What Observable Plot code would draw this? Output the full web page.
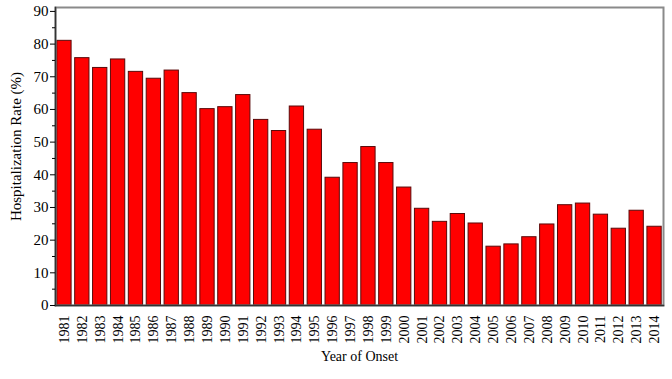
<!DOCTYPE html>
<html>
<head>
<meta charset="utf-8">
<script src="https://cdn.jsdelivr.net/npm/d3@7"></script>
<script src="https://cdn.jsdelivr.net/npm/@observablehq/plot@0.6"></script>
<style>
  html, body { margin: 0; padding: 0; background: white; }
</style>
</head>
<body>
<div id="chart"></div>
<script>
const years = [1981, 1982, 1983, 1984, 1985, 1986, 1987, 1988, 1989, 1990,
  1991, 1992, 1993, 1994, 1995, 1996, 1997, 1998, 1999, 2000,
  2001, 2002, 2003, 2004, 2005, 2006, 2007, 2008, 2009, 2010,
  2011, 2012, 2013, 2014];
const rates = [81.0, 75.7, 72.7, 75.3, 71.5, 69.4, 71.9, 65.0, 60.1, 60.7,
  64.4, 56.8, 53.4, 60.9, 53.8, 39.1, 43.6, 48.5, 43.6, 36.1,
  29.6, 25.6, 28.0, 25.1, 18.0, 18.7, 20.9, 24.8, 30.7, 31.2,
  27.8, 23.5, 29.0, 24.1];
const yTicks = [0, 10, 20, 30, 40, 50, 60, 70, 80, 90];
const yMinorTicks = [5, 15, 25, 35, 45, 55, 65, 75, 85];
const yLabel = "Hospitalization Rate (%)";
const xLabel = "Year of Onset";

const data = years.map((y, i) => ({year: String(y), rate: rates[i]}));

const chart = Plot.plot({
  width: 672,
  height: 379,
  marginLeft: 55,
  marginRight: 9,
  marginTop: 7,
  marginBottom: 74,
  style: {fontFamily: "'Liberation Serif', 'Times New Roman', serif", fontSize: "14px", color: "black", background: "white"},
  x: {domain: years.map(String), paddingInner: 0.2, paddingOuter: 0.1, round: false, label: null},
  y: {domain: [0, 91.2], label: null},
  marks: [
    Plot.barY(data, {x: "year", y: "rate", fill: "#ff0000", stroke: "#5a0a0a", strokeWidth: 1}),
    Plot.frame({stroke: "#8a8a8a", strokeWidth: 2}),
    Plot.frame({anchor: "left", stroke: "#333", strokeWidth: 1.5}),
    Plot.frame({anchor: "bottom", stroke: "#333", strokeWidth: 1.5}),
    Plot.axisY({ticks: yTicks, tickSize: 5, tickPadding: 2, label: null, fontSize: 15}),
    Plot.axisY({ticks: yMinorTicks, tickSize: 3, tickFormat: () => "", label: null}),
    Plot.axisX({tickSize: 0, tickRotate: -90, tickPadding: 10, label: null, fontSize: 14}),
    Plot.text([yLabel], {text: d => d, frameAnchor: "left", textAnchor: "middle", dx: -39, dy: -10, rotate: -90, fontSize: 15}),
    Plot.text([xLabel], {text: d => d, frameAnchor: "bottom", textAnchor: "middle", dy: 55, fontSize: 14})
  ]
});
document.getElementById("chart").appendChild(chart);
</script>
</body>
</html>
